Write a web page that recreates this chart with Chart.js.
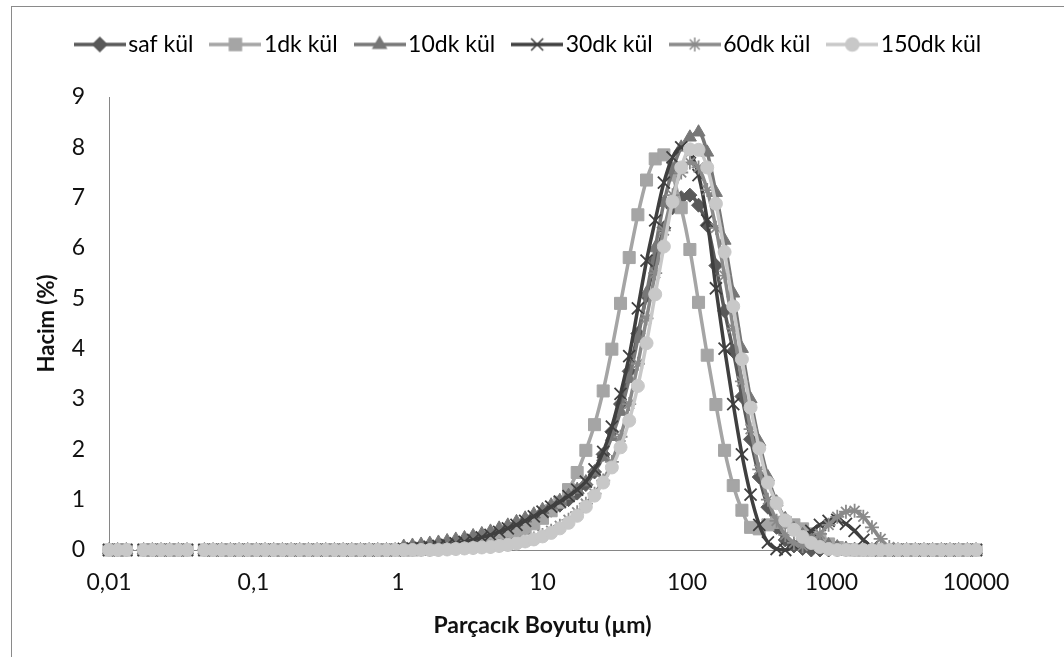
<!DOCTYPE html>
<html>
<head>
<meta charset="utf-8">
<title>Parçacık boyut dağılımı</title>
<script src="https://cdn.jsdelivr.net/npm/chart.js@4.4.1/dist/chart.umd.min.js"></script>
<style>
  html, body { margin: 0; padding: 0; background: #fff; overflow: hidden; }
  #frame { position: absolute; left: 11px; top: 6px; width: 1100px; height: 700px; border: 1px solid #8a8a8a; }
  #wrap { position: absolute; left: 0; top: 0; width: 1064px; height: 657px; }
</style>
</head>
<body>
<div id="frame"></div>
<div id="wrap"><canvas id="psdChart" width="1064" height="657"></canvas></div>
<script>
// particle size classes (µm), 101 bins from 0.01 to 10000
const sizes = [
  0.01, 0.01148, 0.01318, 0.01514, 0.01738, 0.01995, 0.02291, 0.0263, 0.0302, 0.03467,
  0.03981, 0.04571, 0.05248, 0.06026, 0.06918, 0.07943, 0.0912, 0.1047, 0.1202, 0.138,
  0.1585, 0.182, 0.2089, 0.2399, 0.2754, 0.3162, 0.3631, 0.4169, 0.4786, 0.5495,
  0.631, 0.7244, 0.8318, 0.955, 1.096, 1.259, 1.445, 1.66, 1.905, 2.188,
  2.512, 2.884, 3.311, 3.802, 4.365, 5.012, 5.754, 6.607, 7.586, 8.71,
  10, 11.48, 13.18, 15.14, 17.38, 19.95, 22.91, 26.3, 30.2, 34.67,
  39.81, 45.71, 52.48, 60.26, 69.18, 79.43, 91.2, 104.7, 120.2, 138,
  158.5, 182, 208.9, 239.9, 275.4, 316.2, 363.1, 416.9, 478.6, 549.5,
  631, 724.4, 831.8, 955, 1096, 1259, 1445, 1660, 1905, 2188,
  2512, 2884, 3311, 3802, 4365, 5012, 5754, 6607, 7586, 8710,
  10000
];

// volume % per size class (empty cells kept as null)
const safKul = [
  0, 0, 0, null, 0, 0, 0, 0, 0, 0,
  null, 0, 0, 0, 0, 0, 0, 0, 0, 0,
  0, 0, 0, 0, 0, 0, 0, 0, 0, 0,
  0, 0, 0, 0, 0.01, 0.02, 0.03, 0.05, 0.07, 0.09,
  0.12, 0.15, 0.19, 0.23, 0.28, 0.33, 0.39, 0.46, 0.53, 0.61,
  0.7, 0.79, 0.89, 1.0, 1.13, 1.3, 1.55, 1.9, 2.35, 2.9,
  3.55, 4.3, 5.05, 5.75, 6.4, 6.8, 7.0, 7.05, 6.85, 6.45,
  5.65, 4.75, 3.95, 3.05, 2.2, 1.45, 0.85, 0.45, 0.2, 0.08,
  0.03, 0, 0, 0, 0, 0, 0, 0, 0, 0,
  0, 0, 0, 0, 0, 0, 0, 0, 0, 0,
  0
];
const kul1dk = [
  0, 0, 0, null, 0, 0, 0, 0, 0, 0,
  null, 0, 0, 0, 0, 0, 0, 0, 0, 0,
  0, 0, 0, 0, 0, 0, 0, 0, 0, 0,
  0, 0, 0, 0, 0, 0, 0.01, 0.02, 0.04, 0.06,
  0.08, 0.1, 0.13, 0.16, 0.2, 0.25, 0.3, 0.36, 0.43, 0.52,
  0.63, 0.78, 0.95, 1.2, 1.54, 1.98, 2.49, 3.16, 3.99, 4.9,
  5.81, 6.66, 7.35, 7.77, 7.85, 7.45, 6.8, 5.97, 4.92, 3.87,
  2.89, 1.98, 1.28, 0.79, 0.45, 0.42, 0.5, 0.55, 0.55, 0.5,
  0.42, 0.32, 0.22, 0.12, 0.05, 0.01, 0, 0, 0, 0,
  0, 0, 0, 0, 0, 0, 0, 0, 0, 0,
  0
];
const kul10dk = [
  0, 0, 0, null, 0, 0, 0, 0, 0, 0,
  null, 0, 0, 0, 0, 0, 0, 0, 0, 0,
  0, 0, 0, 0, 0, 0, 0, 0, 0, 0,
  0, 0, 0, 0, 0.07, 0.09, 0.11, 0.13, 0.15, 0.18,
  0.21, 0.24, 0.28, 0.32, 0.37, 0.43, 0.49, 0.56, 0.63, 0.71,
  0.8, 0.89, 0.98, 1.08, 1.2, 1.35, 1.55, 1.85, 2.25, 2.75,
  3.4, 4.2, 5.1, 6.0, 6.9, 7.55, 8.0, 8.2, 8.3, 7.9,
  7.1, 6.15, 5.1, 4.0, 3.0, 2.15, 1.45, 0.95, 0.62, 0.42,
  0.3, 0.22, 0.15, 0.1, 0.06, 0.03, 0.01, 0, 0, 0,
  0, 0, 0, 0, 0, 0, 0, 0, 0, 0,
  0
];
const kul30dk = [
  0, 0, 0, null, 0, 0, 0, 0, 0, 0,
  null, 0, 0, 0, 0, 0, 0, 0, 0, 0,
  0, 0, 0, 0, 0, 0, 0, 0, 0, 0,
  0, 0, 0, 0, 0.02, 0.03, 0.04, 0.06, 0.08, 0.1,
  0.13, 0.16, 0.2, 0.25, 0.3, 0.36, 0.43, 0.5, 0.58, 0.67,
  0.76, 0.86, 0.96, 1.07, 1.2, 1.36, 1.6, 1.95, 2.45, 3.1,
  3.85, 4.8, 5.75, 6.55, 7.3, 7.8, 8.0, 7.9, 7.45, 6.55,
  5.2, 4.0, 2.9, 1.9, 1.1, 0.5, 0.15, 0.02, 0, 0.1,
  0.25, 0.38, 0.5, 0.58, 0.6, 0.52, 0.38, 0.2, 0.06, 0,
  0, 0, 0, 0, 0, 0, 0, 0, 0, 0,
  0
];
const kul60dk = [
  0, 0, 0, null, 0, 0, 0, 0, 0, 0,
  null, 0, 0, 0, 0, 0, 0, 0, 0, 0,
  0, 0, 0, 0, 0, 0, 0, 0, 0, 0,
  0, 0, 0, 0, 0, 0, 0, 0, 0.01, 0.02,
  0.03, 0.04, 0.05, 0.06, 0.07, 0.09, 0.11, 0.14, 0.18, 0.23,
  0.3, 0.38, 0.48, 0.6, 0.75, 0.92, 1.12, 1.38, 1.75, 2.25,
  2.9, 3.7, 4.6, 5.5, 6.35, 7.05, 7.5, 7.7, 7.6, 7.15,
  6.4, 5.45, 4.4, 3.35, 2.4, 1.6, 1.0, 0.58, 0.3, 0.14,
  0.08, 0.15, 0.32, 0.5, 0.66, 0.76, 0.78, 0.66, 0.45, 0.22,
  0.06, 0, 0, 0, 0, 0, 0, 0, 0, 0,
  0
];
const kul150dk = [
  0, 0, 0, null, 0, 0, 0, 0, 0, 0,
  null, 0, 0, 0, 0, 0, 0, 0, 0, 0,
  0, 0, 0, 0, 0, 0, 0, 0, 0, 0,
  0, 0, 0, 0, 0, 0, 0, 0, 0, 0.01,
  0.02, 0.03, 0.04, 0.05, 0.06, 0.08, 0.1, 0.13, 0.17, 0.21,
  0.27, 0.34, 0.43, 0.54, 0.68, 0.86, 1.08, 1.34, 1.64, 2.04,
  2.57, 3.26, 4.11, 5.08, 6.03, 6.92, 7.6, 7.96, 7.95, 7.6,
  6.88, 5.92, 4.84, 3.79, 2.83, 2.02, 1.34, 0.93, 0.59, 0.4,
  0.26, 0.14, 0.06, 0.02, 0, 0, 0, 0, 0, 0,
  0, 0, 0, 0, 0, 0, 0, 0, 0, 0,
  0
];

const seriesNames = ['saf kül', '1dk kül', '10dk kül', '30dk kül', '60dk kül', '150dk kül'];
const seriesValues = [safKul, kul1dk, kul10dk, kul30dk, kul60dk, kul150dk];

// decade ticks on the size axis
const xTickValues = [0.01, 0.1, 1, 10, 100, 1000, 10000];
const xTickLabels = ['0,01', '0,1', '1', '10', '100', '1000', '10000'];

// look of each series
const seriesColors = ['#595959', '#a5a5a5', '#777777', '#3f3f3f', '#8a8a8a', '#c8c8c8'];
const seriesMarkers = ['rectRot', 'rect', 'triangle', 'crossRot', 'star', 'circle'];
const markerRadius = [7, 8.5, 7.5, 8.5, 7, 6.5];

const FONT = 'Lato, "Open Sans", sans-serif';
Chart.defaults.font.family = FONT;
Chart.defaults.color = '#111';

// small line + marker picture for the legend
function legendIcon(color, marker, radius) {
    const c = document.createElement('canvas');
    c.width = 52;
    c.height = 20;
    const g = c.getContext('2d');
    g.strokeStyle = color;
    g.lineWidth = 3.5;
    g.beginPath();
    g.moveTo(0, 10);
    g.lineTo(52, 10);
    g.stroke();
    g.fillStyle = color;
    g.lineWidth = 1.5;
    Chart.helpers.drawPoint(g, { pointStyle: marker, radius: radius, borderWidth: 1.5 }, 26, 10);
    return c;
}
const legendIcons = seriesColors.map((c, i) => legendIcon(c, seriesMarkers[i], markerRadius[i]));

const datasets = seriesNames.map((name, i) => {
    const isLineMarker = seriesMarkers[i] === 'crossRot' || seriesMarkers[i] === 'star';
    return {
        label: name,
        data: sizes.map((x, j) => ({ x: x, y: seriesValues[i][j] })),
        xAxisID: 'x',
        yAxisID: 'y',
        borderColor: seriesColors[i],
        backgroundColor: seriesColors[i],
        borderWidth: 3.5,
        pointStyle: seriesMarkers[i],
        pointRadius: markerRadius[i],
        pointBackgroundColor: seriesColors[i],
        pointBorderColor: seriesColors[i],
        pointBorderWidth: isLineMarker ? 1.8 : 1,
        cubicInterpolationMode: 'monotone',
        spanGaps: false,
        clip: false,
        // later series sit on top
        order: seriesNames.length - 1 - i
    };
});

const ctx = document.getElementById('psdChart').getContext('2d');
new Chart(ctx, {
    type: 'line',
    data: { datasets: datasets },
    options: {
        responsive: false,
        animation: false,
        events: [],
        layout: { padding: { top: 8, right: 0, bottom: 0, left: 0 } },
        scales: {
            x: {
                type: 'logarithmic',
                position: 'bottom',
                min: 0.01,
                max: 10000,
                grid: { display: false, drawTicks: false },
                border: { display: true, color: '#868686', width: 1 },
                afterBuildTicks: (scale) => {
                    scale.ticks = xTickValues.map(v => ({ value: v }));
                },
                afterFit: (scale) => { scale.height = 107; },
                ticks: {
                    autoSkip: false,
                    maxRotation: 0,
                    padding: 19,
                    font: { size: 23 },
                    color: '#111',
                    callback: (value, index) => xTickLabels[index]
                },
                title: {
                    display: true,
                    text: 'Parçacık Boyutu (µm)',
                    font: { size: 23, weight: 'bold' },
                    color: '#111',
                    padding: { top: 0, bottom: 18 }
                }
            },
            y: {
                type: 'linear',
                position: 'left',
                min: 0,
                max: 9,
                grid: { display: false, drawTicks: false },
                border: { display: true, color: '#868686', width: 1 },
                afterFit: (scale) => { scale.width = 109; },
                ticks: {
                    stepSize: 1,
                    padding: 24,
                    font: { size: 23 },
                    color: '#111'
                },
                title: {
                    display: true,
                    text: 'Hacim (%)',
                    font: { size: 22, weight: 'bold' },
                    color: '#111',
                    padding: 34
                }
            },
            // empty boxes that hold the plot away from the legend and the right edge
            yRight: {
                type: 'linear',
                position: 'right',
                display: true,
                grid: { display: false, drawTicks: false },
                border: { display: false },
                ticks: { display: false },
                afterFit: (scale) => { scale.width = 88; }
            },
            xTop: {
                type: 'linear',
                position: 'top',
                display: true,
                grid: { display: false, drawTicks: false },
                border: { display: false },
                ticks: { display: false },
                afterFit: (scale) => { scale.height = 31; }
            }
        },
        plugins: {
            tooltip: { enabled: false },
            legend: {
                position: 'top',
                align: 'center',
                labels: {
                    usePointStyle: true,
                    pointStyleWidth: 34,
                    padding: 25,
                    color: '#111',
                    font: { size: 23 },
                    generateLabels: (chart) => chart.data.datasets.map((ds, i) => ({
                        text: ds.label,
                        pointStyle: legendIcons[i],
                        fillStyle: ds.borderColor,
                        strokeStyle: ds.borderColor,
                        lineWidth: 0,
                        hidden: false,
                        datasetIndex: i
                    }))
                }
            }
        }
    }
});
</script>
</body>
</html>
